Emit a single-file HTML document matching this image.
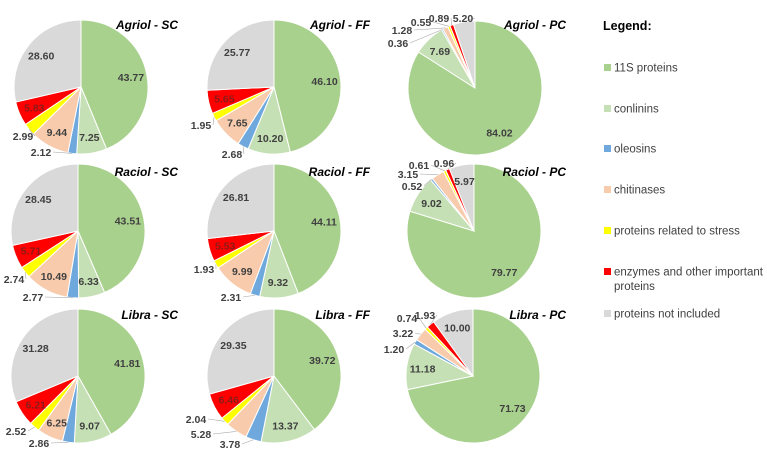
<!DOCTYPE html>
<html><head><meta charset="utf-8">
<style>
html,body{margin:0;padding:0;background:#fff;}
body{width:767px;height:457px;overflow:hidden;font-family:"Liberation Sans",sans-serif;}
svg text{font-family:"Liberation Sans",sans-serif;}
</style></head>
<body>
<svg id="chart" width="767" height="457" viewBox="0 0 767 457" xmlns="http://www.w3.org/2000/svg"></svg>
<script>
const categories = ["11S proteins","conlinins","oleosins","chitinases","proteins related to stress","enzymes and other important proteins","proteins not included"];
const chartTitles = ["Agriol - SC","Agriol - FF","Agriol - PC","Raciol - SC","Raciol - FF","Raciol - PC","Libra - SC","Libra - FF","Libra - PC"];
const agriolSC = [43.77,7.25,2.12,9.44,2.99,5.83,28.60];
const agriolFF = [46.10,10.20,2.68,7.65,1.95,5.65,25.77];
const agriolPC = [84.02,7.69,0.36,1.28,0.55,0.89,5.20];
const raciolSC = [43.51,6.33,2.77,10.49,2.74,5.71,28.45];
const raciolFF = [44.11,9.32,2.31,9.99,1.93,5.53,26.81];
const raciolPC = [79.77,9.02,0.52,3.15,0.61,0.96,5.97];
const libraSC = [41.81,9.07,2.86,6.25,2.52,6.21,31.28];
const libraFF = [39.72,13.37,3.78,5.28,2.04,6.46,29.35];
const libraPC = [71.73,11.18,1.20,3.22,0.74,1.93,10.00];
const series = [agriolSC,agriolFF,agriolPC,raciolSC,raciolFF,raciolPC,libraSC,libraFF,libraPC];

// layout (not data)
const colors = ["#a9d18e","#c5e0b4","#6fa8dc","#f8cbad","#ffff00","#ff0000","#d9d9d9"];
const centers = [[81,87],[274,87],[475,88],[78,231],[274,231],[474,231],[78,376],[274,376],[473,376]];
const radius = 67;
const titleRight = [178,370,566];
const titleY = [29,176,319];
const outsidePos = {
  "0-2":[41,156],"0-4":[23,140],
  "1-2":[232,158],"1-4":[201,129],
  "2-2":[398,47],"2-3":[402,34],"2-4":[421,26],"2-5":[439,22],"2-6":[463,22],
  "3-2":[33,301],"3-4":[14,283],
  "4-2":[231,301],"4-4":[204,273],
  "5-2":[412,190],"5-3":[408,178],"5-4":[419,169],"5-5":[444,167],
  "6-2":[39,447],"6-4":[16,435],
  "7-2":[230,448],"7-3":[201,438],"7-4":[196,423],
  "8-2":[394,353],"8-3":[403,337],"8-4":[407,322],"8-5":[425,319]
};
const NS="http://www.w3.org/2000/svg";
const svg=document.getElementById('chart');
function mk(tag,attrs,parent){const e=document.createElementNS(NS,tag);for(const k in attrs)e.setAttribute(k,attrs[k]);(parent||svg).appendChild(e);return e;}
function angleOf(frac){return frac*2*Math.PI - Math.PI/2;}
function pt(cx,cy,r,a){return [cx+r*Math.cos(a),cy+r*Math.sin(a)];}

series.forEach((vals,ci)=>{
  const [cx,cy]=centers[ci];
  const g=mk('g',{});
  
  
  const total=vals.reduce((a,b)=>a+b,0);
  let acc=0;
  vals.forEach((v,si)=>{
    const a0=angleOf(acc/total), a1=angleOf((acc+v)/total);
    acc+=v;
    const p0=pt(cx,cy,radius,a0), p1=pt(cx,cy,radius,a1);
    const large=(a1-a0)>Math.PI?1:0;
    const path=mk('path',{d:`M${cx},${cy}L${p0[0]},${p0[1]}A${radius},${radius} 0 ${large} 1 ${p1[0]},${p1[1]}Z`,fill:colors[si],stroke:'#fff','stroke-width':1},g);
    
    
  });
  acc=0;
  vals.forEach((v,si)=>{
    const am=angleOf((acc+v/2)/total); acc+=v;
    const key=ci+'-'+si;
    let x,y,outside=false;
    if(outsidePos[key]){
      outside=true;
      [x,y]=outsidePos[key];
      const e=pt(cx,cy,radius,am);
      const ln=mk('line',{x1:x+(x<e[0]?12:-12),y1:y-4,x2:e[0],y2:e[1],stroke:'#a6a6a6','stroke-width':0.6},g);
      
      
    } else {
      const p=pt(cx,cy,radius*0.76,am); x=p[0]; y=p[1]+4;
    }
    const t=mk('text',{x:x,y:y,'text-anchor':'middle','font-size':'10.5','font-weight':'bold',fill:(si===5&&!outside)?'#8b1a1a':'#404040'},g);
    t.textContent=v.toFixed(2);
    
    
  });
  const tt=mk('text',{x:titleRight[ci%3],y:titleY[Math.floor(ci/3)],'text-anchor':'end','font-size':'12','font-weight':'bold','font-style':'italic',fill:'#000'},g);
  tt.textContent=chartTitles[ci];
  
  
});

// legend
const lg=mk('g',{});


const lt=mk('text',{x:603,y:30,'font-size':'12.5','font-weight':'bold',fill:'#000'},lg);
lt.textContent='Legend:';


const legY=[68,109,149,190,231,272,314];
categories.forEach((c,i)=>{
  const y=legY[i];
  const r=mk('rect',{x:604,y:y-4,width:7,height:7,fill:colors[i]},lg);
  
  
  const t=mk('text',{x:614,y:y+3.5,'font-size':'11.5',fill:'#404040'},lg);
  
  
  if(i===5){
    t.textContent='enzymes and other important';
    const t2=mk('text',{x:614,y:y+18,'font-size':'11.5',fill:'#404040'},lg);
    t2.textContent='proteins';
    
    
  } else t.textContent=c;
});
</script>
</body></html>
